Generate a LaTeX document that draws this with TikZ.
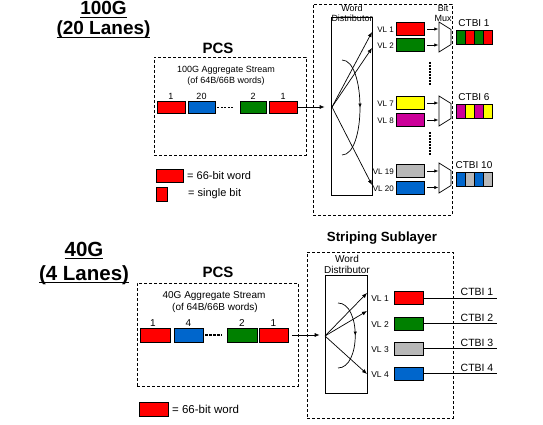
\documentclass[tikz,border=0pt]{standalone}
\usepackage{fontspec}
\setmainfont{Liberation Sans}
\usetikzlibrary{arrows.meta,decorations.markings}
\definecolor{wred}{RGB}{255,0,0}
\definecolor{wblue}{RGB}{0,102,204}
\definecolor{wgreen}{RGB}{0,128,0}
\definecolor{wyellow}{RGB}{255,255,0}
\definecolor{wmag}{RGB}{204,0,153}
\definecolor{wgray}{RGB}{184,184,184}
\newcommand{\thul}[1]{\setbox0\hbox{#1}\leavevmode\rlap{\vrule height -1.6pt depth 3.4pt width \wd0}\box0}
\begin{document}
\begin{tikzpicture}[x=1pt,y=-1pt,
  wbox/.style={draw, line width=0.6pt, minimum width=28pt, minimum height=12pt, inner sep=0pt},
  cell/.style={draw, line width=0.6pt, minimum width=9pt, minimum height=14pt, inner sep=0pt},
  small/.style={font=\fontsize{9}{10}\selectfont, inner sep=0pt},
  vlt/.style={font=\fontsize{8}{9}\selectfont, inner sep=0pt},
  vlb/.style={font=\fontsize{8.5}{9}\selectfont, inner sep=0pt},
  mid/.style={font=\fontsize{10}{11}\selectfont, inner sep=0pt},
  leg/.style={font=\fontsize{11}{12}\selectfont, inner sep=0pt, anchor=west},
  title/.style={font=\fontsize{19}{20}\selectfont\bfseries, inner sep=0pt, anchor=base},
  head/.style={font=\fontsize{15}{16}\selectfont\bfseries, inner sep=0pt},
  dbox/.style={draw, dash pattern=on 3pt off 2pt, line width=0.6pt, inner sep=0pt},
  plain/.style={draw, line width=0.7pt, inner sep=0pt},
  arr/.style={-{Latex[length=5pt,width=4pt]}, line width=0.7pt},
  sarr/.style={-{Latex[length=4pt,width=3.5pt]}, line width=0.7pt},
  marc/.style={line width=0.7pt, postaction={decorate},
    decoration={markings, mark=at position 0.5 with {\arrow{Latex[length=4pt,width=3.5pt]}}}},
  vdots/.style={line width=2pt, dash pattern=on 2pt off 1pt},
  mux/.style={draw, line width=0.7pt, fill=white},
  ln/.style={line width=0.8pt}
]
\useasboundingbox (0,0) rectangle (543,425);
\fill[white] (0,0) rectangle (543,425);

% ================= TOP: 100G =================
\node[title] (t1a) at (103.5,15) {\thul{100G}};
\node[title] (t1b) at (103.5,35) {\thul{(20 Lanes)}};
\node[head] (pcs1l) at (218,48) {PCS};
\node[dbox, minimum width=152pt, minimum height=98pt] (pcs1) at (230,106) {};
\node[small] (s1a) at (226,70) {100G Aggregate Stream};
\node[small] (s1b) at (226,81) {(of 64B/66B words)};

\node[wbox, fill=wred] (a1) at (171,107) {};
\node[wbox, fill=wblue, minimum width=27pt] (a2) at (201.5,107) {};
\node[wbox, fill=wgreen, minimum width=26pt] (a3) at (253,107) {};
\node[wbox, fill=wred] (a4) at (283,107) {};
\node[small, anchor=south] at (a1.north) [yshift=1pt] {1};
\node[small, anchor=south] at (a2.north) [yshift=1pt] {20};
\node[small, anchor=south] at (a3.north) [yshift=1pt] {2};
\node[small, anchor=south] at (a4.north) [yshift=1pt] {1};
\draw[ln, dash pattern=on 2pt off 1.5pt] (a2.east) ++(2,0) -- ([xshift=-7pt]a3.west);

% legend
\node[wbox, fill=wred, minimum width=27pt, minimum height=13pt] (lg1) at (169.5,175.5) {};
\node[leg] (lg1t) at (187,176) {= 66-bit word};
\node[wbox, fill=wred, minimum width=11pt, minimum height=14pt] (lg2) at (161.5,194) {};
\node[leg] (lg2t) at (188,194) {= single bit};

% striping box
\node[dbox, minimum width=139pt, minimum height=211pt] (ss1) at (382.5,109.5) {};
\node[small] (wd1a) at (352,8) {Word};
\node[small] (wd1b) at (352,18) {Distributor};
\node[small] (bm1a) at (443,8) {Bit};
\node[small] (bm1b) at (443,18) {Mux};
\node[plain, minimum width=41pt, minimum height=178pt] (wd1) at (351.5,106) {};
\draw[arr, shorten >=6pt] (a4.east) -- (wd1.west |- a4.east);

\coordinate (f1) at (332,107);
\coordinate (e1) at (372,32);
\coordinate (e2) at (372,48);
\coordinate (e3) at (372,185);
\draw[arr] (f1) -- (e1);
\draw[arr] (f1) -- (e2);
\draw[arr] (f1) -- (e3);
\coordinate (c1s) at (342,60);
\coordinate (c1e) at (342,155);
\draw[marc] (c1s) .. controls (366,60) and (366,155) .. (c1e);

% VL labels and boxes
\foreach \n/\lab/\y/\col in {v1/VL 1/29/wred, v2/VL 2/45/wgreen, v7/VL 7/103/wyellow, v8/VL 8/120/wmag, v19/VL 19/171/wgray, v20/VL 20/187.5/wblue}{
  \node[wbox, fill=\col, minimum height=13pt] (\n) at (410,\y) {};
  \node[vlt, anchor=east] (\n l) at (394,\y+1) {\lab};
}

% muxes
\foreach \m/\c in {m1/37, m2/111, m3/178}{
  \draw[mux] (439,\c-15) -- (451,\c-7.5) -- (451,\c+7.5) -- (439,\c+15) -- cycle;
  \coordinate (\m) at (439,\c);
}
\foreach \n in {v1,v2,v7,v8,v19,v20}{
  \draw[sarr] ([xshift=3pt]\n.east) -- ([xshift=14pt]\n.east);
}
\coordinate (d1a) at (430,62);
\coordinate (d1b) at (430,85);
\coordinate (d2a) at (430,132);
\coordinate (d2b) at (430,155);
\draw[vdots] (d1a) -- (d1b);
\draw[vdots] (d2a) -- (d2b);

% CTBI bars
\foreach \b/\y/\ca/\cb/\lab in {b1/37/wgreen/wred/CTBI 1, b6/111/wmag/wyellow/CTBI 6, b10/179/wblue/wgray/CTBI 10}{
  \node[cell, fill=\ca] (\b a) at (460.5,\y) {};
  \node[cell, fill=\cb] (\b b) at (469.5,\y) {};
  \node[cell, fill=\ca] (\b c) at (478.5,\y) {};
  \node[cell, fill=\cb] (\b d) at (487.5,\y) {};
  \node[mid, anchor=south] (\b l) at (474,\y-10) {\lab};
}

% ================= BOTTOM: 40G =================
\node[title, font=\fontsize{20.5}{21}\selectfont\bfseries] (t2a) at (84,256) {\thul{40G}};
\node[title, font=\fontsize{20.5}{21}\selectfont\bfseries] (t2b) at (84,280) {\thul{(4 Lanes)}};
\node[head] (pcs2l) at (218,272) {PCS};
\node[dbox, minimum width=161pt, minimum height=103pt] (pcs2) at (217.5,334.5) {};
\node[mid] (s2a) at (214,296) {40G Aggregate Stream};
\node[mid] (s2b) at (215,308) {(of 64B/66B words)};

\node[wbox, fill=wred, minimum width=30pt, minimum height=14pt] (b1) at (155,335) {};
\node[wbox, fill=wblue, minimum width=29pt, minimum height=14pt] (b2) at (188.5,335) {};
\node[wbox, fill=wgreen, minimum width=30pt, minimum height=14pt] (b3) at (242,335) {};
\node[wbox, fill=wred, minimum width=29pt, minimum height=14pt] (b4) at (273.5,335) {};
\node[mid, anchor=south] at (b1.north) [yshift=1pt, xshift=-2pt] {1};
\node[mid, anchor=south] at (b2.north) [yshift=1pt] {4};
\node[mid, anchor=south] at (b3.north) [yshift=1pt] {2};
\node[mid, anchor=south] at (b4.north) [yshift=1pt] {1};
\draw[line width=1.3pt, dash pattern=on 2.5pt off 1.5pt] (b2.east) ++(2,0) -- ([xshift=-5pt]b3.west);

\node[wbox, fill=wred, minimum width=29pt, minimum height=14pt] (lg3) at (153.5,409) {};
\node[leg, font=\fontsize{11.5}{12}\selectfont] (lg3t) at (172,409) {= 66-bit word};

\node[head, font=\fontsize{13.3}{14}\selectfont\bfseries] (ssl2) at (382,238) {Striping Sublayer};
\node[dbox, minimum width=146pt, minimum height=166pt] (ss2) at (380,335) {};
\node[mid] (wd2a) at (347,259) {Word};
\node[mid] (wd2b) at (347,270) {Distributor};
\node[plain, minimum width=42pt, minimum height=118pt] (wd2) at (346,334) {};
\draw[arr, shorten >=5pt, shorten <=4pt] (b4.east) -- (wd2.west |- b4.east);

\coordinate (f2) at (325,336);
\coordinate (g1) at (367,293);
\coordinate (g2) at (367,311);
\coordinate (g3) at (367,374);
\draw[arr] (f2) -- (g1);
\draw[arr] (f2) -- (g2);
\draw[arr] (f2) -- (g3);
\coordinate (c2s) at (338,303);
\coordinate (c2e) at (338,368);
\draw[marc] (c2s) .. controls (361,303) and (361,368) .. (c2e);

\foreach \n/\lab/\y/\col/\ct in {w1/VL 1/298/wred/CTBI 1, w2/VL 2/323.5/wgreen/CTBI 2, w3/VL 3/348.5/wgray/CTBI 3, w4/VL 4/373.5/wblue/CTBI 4}{
  \node[wbox, fill=\col, minimum width=29pt, minimum height=13pt] (\n) at (408.5,\y) {};
  \node[vlb, anchor=east] (\n l) at (389,\y+1) {\lab};
  \coordinate (\n e) at (497,\y);
  \draw[ln] (\n.east) -- (\n e);
  \node[mid, font=\fontsize{10.5}{11}\selectfont, anchor=south] (\n c) at (477,\y-2) {\ct};
}
\end{tikzpicture}
\end{document}
